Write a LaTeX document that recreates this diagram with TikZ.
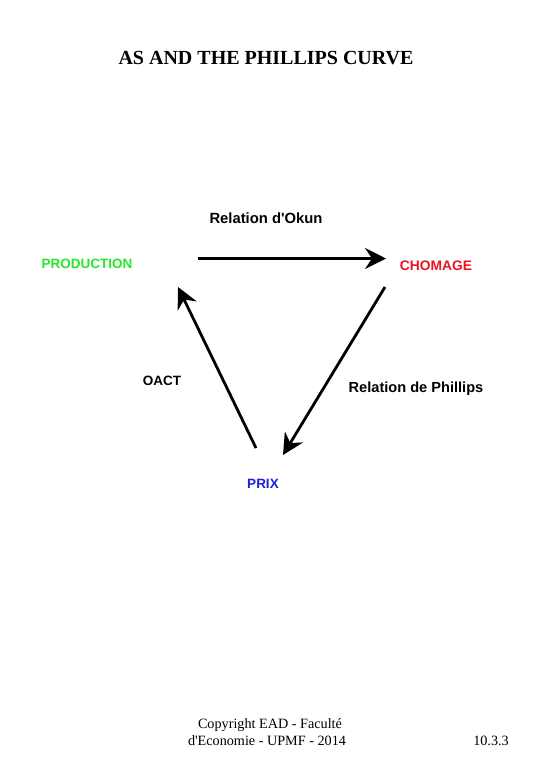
\documentclass[tikz,border=0pt]{standalone}
\usepackage{fontspec}
\setmainfont{Liberation Serif}
\newfontfamily\timesf{Liberation Serif}
\newfontfamily\arialf{Liberation Sans}
\usetikzlibrary{arrows.meta}
\definecolor{prodgreen}{RGB}{40,230,40}
\definecolor{chomred}{RGB}{235,20,30}
\definecolor{prixblue}{RGB}{30,30,220}
\tikzset{
  lbl/.style={anchor=base, inner sep=0pt, font=\arialf\bfseries\fontsize{14.8}{16}\selectfont},
  conn/.style={line width=2.8pt, -{Stealth[length=21pt,width=21pt,inset=7pt]}},
  foot/.style={anchor=base, inner sep=0pt, font=\timesf\fontsize{14.2}{17}\selectfont}
}
\begin{document}
\begin{tikzpicture}[x=1pt,y=-1pt]
\useasboundingbox (0,0) rectangle (540,780);
\fill[white] (0,0) rectangle (540,780);
\node[anchor=base, inner sep=0pt, font=\timesf\bfseries\fontsize{20}{22}\selectfont] (title) at (266,64.5) {AS AND THE PHILLIPS CURVE};
\node[lbl, text=prodgreen, font=\arialf\bfseries\fontsize{13.5}{16}\selectfont] (prod) at (87,268) {PRODUCTION};
\node[lbl, text=chomred, font=\arialf\bfseries\fontsize{13.8}{16}\selectfont] (chom) at (436,270) {CHOMAGE};
\node[lbl, text=prixblue, font=\arialf\bfseries\fontsize{13.5}{16}\selectfont] (prix) at (263,488) {PRIX};
\node[lbl] (okun) at (266,223) {Relation d'Okun};
\node[lbl, font=\arialf\bfseries\fontsize{13.5}{16}\selectfont] (oact) at (162,385) {OACT};
\node[lbl, font=\arialf\bfseries\fontsize{14.6}{16}\selectfont] (phil) at (416,392) {Relation de Phillips};
\coordinate (a1s) at (198,258.5);
\coordinate (a1e) at (386,258.5);
\coordinate (a2s) at (385,287);
\coordinate (a2e) at (283,455);
\coordinate (a3s) at (256,448);
\coordinate (a3e) at (178,287);
\draw[conn] (a1s) -- (a1e);
\draw[conn] (a2s) -- (a2e);
\draw[conn] (a3s) -- (a3e);
\node[foot] (foot1) at (270,728) {Copyright EAD - Facult\'e};
\node[foot] (foot2) at (267,745) {d'Economie - UPMF - 2014};
\node[foot] (num) at (491,745) {10.3.3};
\end{tikzpicture}
\end{document}
